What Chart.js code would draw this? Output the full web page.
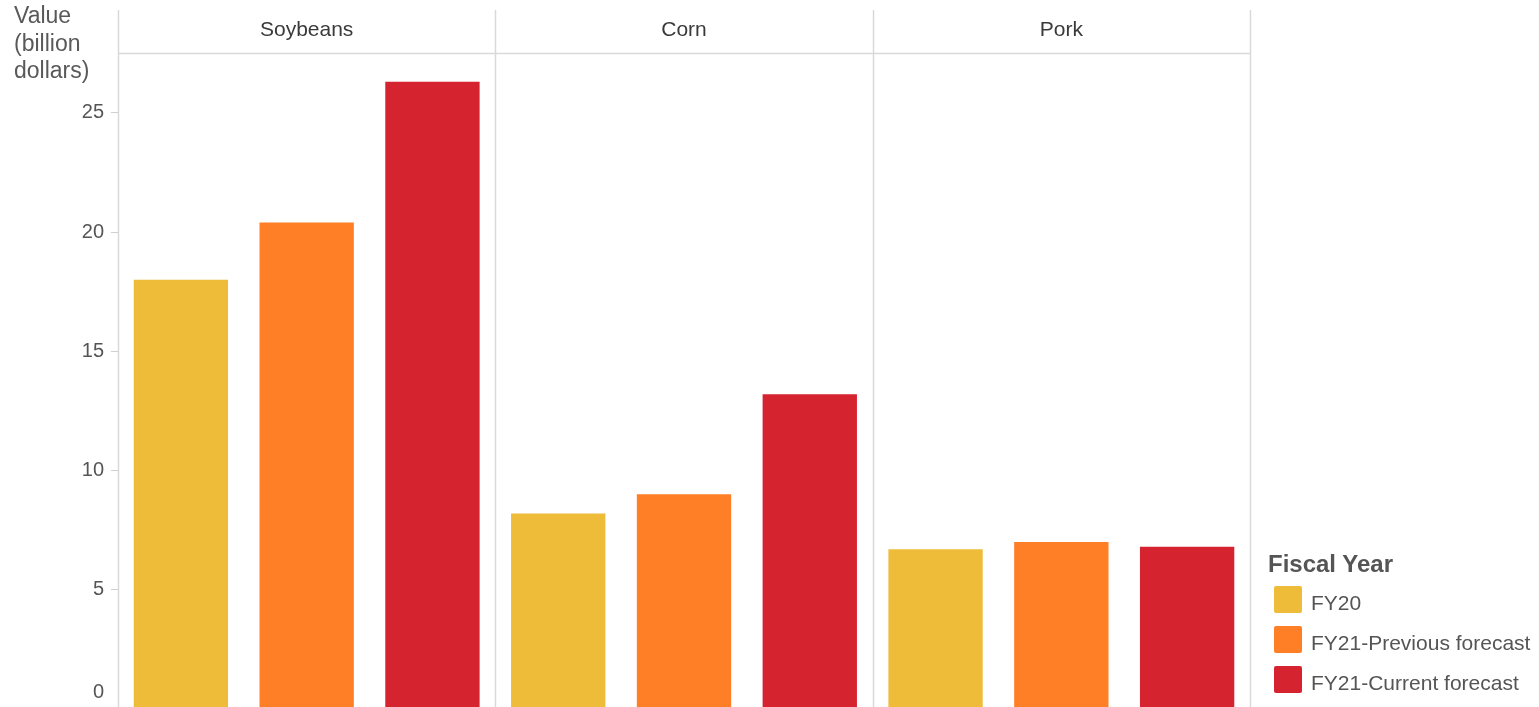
<!DOCTYPE html>
<html>
<head>
<meta charset="utf-8">
<script src="https://cdn.jsdelivr.net/npm/chart.js@4"></script>
<style>
  html, body { margin: 0; padding: 0; background: #fff; overflow: hidden; }
  #wrap { position: relative; width: 1539px; height: 707px; overflow: hidden; font-family: "Liberation Sans", Arial, sans-serif; }
  #chart { position: absolute; left: 0; top: 0; }
  #ytitle { position: absolute; left: 14px; top: 2px; font-size: 23px; line-height: 27.5px; color: #595959; }
  #legend { position: absolute; left: 1268px; top: 550px; }
  #legend .title { font-size: 24px; line-height: 28px; font-weight: bold; color: #555; }
  #legend .item { position: absolute; left: 6px; height: 27px; white-space: nowrap; }
  #legend .swatch { position: absolute; left: 0; top: 0; width: 28px; height: 27px; border-radius: 2px; }
  #legend .label { position: absolute; left: 37px; top: 3px; font-size: 21px; line-height: 27px; color: #555; }
</style>
</head>
<body>
<div id="wrap">
  <canvas id="chart" width="1539" height="728"></canvas>
  <div id="ytitle">Value<br>(billion<br>dollars)</div>
  <div id="legend"><div class="title">Fiscal Year</div></div>
</div>
<script>
const categories = ['Soybeans', 'Corn', 'Pork'];
const seriesNames = ['FY20', 'FY21-Previous forecast', 'FY21-Current forecast'];
const fy20 = [18.0, 8.2, 6.7];
const fy21Previous = [20.4, 9.0, 7.0];
const fy21Current = [26.3, 13.2, 6.8];
const yTicks = [0, 5, 10, 15, 20, 25];

const seriesColors = ['#EEBC39', '#FE7F26', '#D5232F'];
const gridColor = '#d9d9d9';

// header row + panel dividers, like a faceted table
const facetFrame = {
  id: 'facetFrame',
  beforeDatasetsDraw(chart) {
    const { ctx, chartArea, scales } = chart;
    const x = scales.x;
    const n = categories.length;
    const w = (x.right - x.left) / n;
    ctx.save();
    ctx.strokeStyle = gridColor;
    ctx.lineWidth = 1.5;
    for (let i = 0; i <= n; i++) {
      const px = Math.round(x.left + i * w) + 0.5;
      ctx.beginPath();
      ctx.moveTo(px, 10);
      ctx.lineTo(px, chart.height);
      ctx.stroke();
    }
    ctx.beginPath();
    ctx.moveTo(x.left, Math.round(chartArea.top) + 0.5);
    ctx.lineTo(x.right, Math.round(chartArea.top) + 0.5);
    ctx.stroke();
    ctx.restore();
  },
  afterDraw(chart) {
    // zero label sits below the visible page, keep it inside
    const { ctx, scales } = chart;
    const y = scales.y;
    const py = Math.min(y.getPixelForValue(0), 692);
    ctx.save();
    ctx.font = '20px "Liberation Sans", Arial, sans-serif';
    ctx.fillStyle = '#555';
    ctx.textAlign = 'right';
    ctx.textBaseline = 'middle';
    ctx.fillText('0', y.right - 14, py);
    ctx.restore();
  }
};

const seriesData = [fy20, fy21Previous, fy21Current];

new Chart(document.getElementById('chart'), {
  type: 'bar',
  data: {
    labels: categories,
    datasets: seriesNames.map((name, i) => ({
      label: name,
      data: seriesData[i],
      backgroundColor: seriesColors[i],
      barPercentage: 0.75,
      categoryPercentage: 1.0,
    })),
  },
  options: {
    responsive: false,
    animation: false,
    layout: { padding: { top: 16, right: 289, bottom: 0, left: 0 } },
    plugins: {
      legend: { display: false },
      tooltip: { enabled: false },
    },
    scales: {
      x: {
        position: 'top',
        grid: { display: false },
        border: { display: false },
        ticks: {
          padding: 2,
          maxRotation: 0,
          color: '#3a3a3a',
          font: { family: '"Liberation Sans", Arial, sans-serif', size: 21 },
        },
      },
      y: {
        min: 0,
        max: 27.5,
        afterFit(scale) { scale.width = 118; },
        afterBuildTicks(scale) { scale.ticks = yTicks.map((v) => ({ value: v })); },
        grid: { drawOnChartArea: false, drawTicks: true, tickLength: 7, color: '#cfcfcf' },
        border: { display: false },
        ticks: {
          padding: 7,
          color: '#555',
          font: { family: '"Liberation Sans", Arial, sans-serif', size: 20 },
          callback: (v) => (v === 0 ? '' : v),
        },
      },
    },
  },
  plugins: [facetFrame],
});

// legend
const legend = document.getElementById('legend');
seriesNames.forEach((name, i) => {
  const item = document.createElement('div');
  item.className = 'item';
  item.style.top = (36 + i * 40) + 'px';
  item.innerHTML = '<div class="swatch" style="background:' + seriesColors[i] + '"></div><div class="label">' + name + '</div>';
  legend.appendChild(item);
});
</script>
</body>
</html>
